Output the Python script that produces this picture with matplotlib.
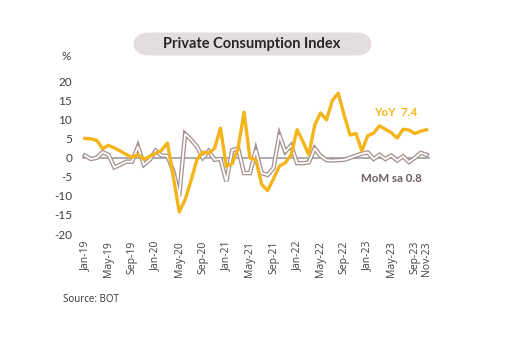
import matplotlib
matplotlib.use("Agg")
import matplotlib.pyplot as plt
from matplotlib.patches import FancyBboxPatch

# ---- data ----
months = [f"{m}-{y}" for y in ["19", "20", "21", "22", "23"]
          for m in ["Jan", "Feb", "Mar", "Apr", "May", "Jun", "Jul", "Aug", "Sep", "Oct", "Nov", "Dec"]][:59]

yoy = [5.1, 5.0, 4.6, 2.4, 3.3, 2.6, 1.8, 0.9, 0.1, 0.9, -0.4, 0.4,
       1.2, 2.0, 3.9, -5.0, -14.2, -11.0, -6.0, -0.5, 1.5, 1.2, 2.5, 7.8,
       -2.2, -1.5, 2.5, 12.0, 0.0, -0.5, -7.0, -8.6, -5.5, -2.2, -1.3, 0.8,
       7.4, 4.3, 0.8, 8.6, 11.8, 10.0, 15.1, 17.0, 11.2, 6.0, 6.4, 1.8,
       5.8, 6.5, 8.4, 7.5, 6.6, 5.2, 7.5, 7.3, 6.4, 7.0, 7.4]

mom = [0.6, -0.3, 0.0, 1.5, 0.8, -2.5, -1.8, -1.0, -1.0, 3.0, -1.8, -0.5,
       1.9, 0.6, 0.5, -3.5, -10.0, 6.3, 4.8, 3.0, 0.0, 1.8, -0.5, -0.3,
       -6.2, 2.0, 2.5, -4.0, -4.0, 2.0, -4.0, -4.5, -2.7, 6.0, 1.6, 3.3,
       -1.4, -1.4, -1.2, 2.5, 0.5, -0.6, -0.7, -0.6, -0.5, 0.0, 0.6, 1.1,
       1.4, -0.3, 0.8, -0.3, 0.6, -0.7, 0.4, -1.1, 0.0, 1.3, 0.8]

tick_labels = ["Jan-19", "May-19", "Sep-19", "Jan-20", "May-20", "Sep-20", "Jan-21",
               "May-21", "Sep-21", "Jan-22", "May-22", "Sep-22", "Jan-23", "May-23",
               "Sep-23", "Nov-23"]
y_ticks = [-20, -15, -10, -5, 0, 5, 10, 15, 20]

title = "Private Consumption Index"
yoy_label = "YoY  7.4"
mom_label = "MoM sa 0.8"
source = "Source: BOT"

# ---- style ----
GOLD = "#F4B41A"
MOM_EDGE = "#A89393"
TXT = "#404040"
W, H = 520, 346

fig = plt.figure(figsize=(W / 100, H / 100), dpi=100)
fig.patch.set_facecolor("white")
ax = fig.add_axes([82 / W, 1 - 234 / H, (429.6 - 82) / W, (234 - 81.7) / H])

x = list(range(len(months)))
ax.axhline(0, color="#A6A6A6", lw=1.3, zorder=1)
ax.plot(x, mom, color=MOM_EDGE, lw=3.2, solid_joinstyle="miter", zorder=2)
ax.plot(x, mom, color="white", lw=1.3, solid_joinstyle="miter", zorder=3)
ax.plot(x, yoy, color=GOLD, lw=2.4, solid_joinstyle="round", zorder=4)

ax.set_xlim(-0.5, len(months) - 0.5)
ax.set_ylim(-20, 20)
ax.set_yticks(y_ticks)
ax.set_yticklabels([str(v) for v in y_ticks], family="Lato", fontsize=8.5, color=TXT)
tick_pos = [months.index(t) for t in tick_labels]
ax.set_xticks(tick_pos)
ax.set_xticklabels(tick_labels, rotation=90, family="Open Sans", fontsize=7.5, color=TXT)
ax.tick_params(axis="both", length=0)
ax.tick_params(axis="y", pad=7)
ax.tick_params(axis="x", pad=5)
for s in ax.spines.values():
    s.set_visible(False)

ax.text(56.4, 11.9, yoy_label, color=GOLD, family="Lato", fontweight="bold",
        fontsize=8.3, ha="right", va="center")
ax.text(57.2, -5.3, mom_label, color="#6B5B5B", family="Lato", fontweight="bold",
        fontsize=8.3, ha="right", va="center")

# "%" unit label
fig.text(66 / W, 1 - 56 / H, "%", family="Lato", fontsize=8.5, color=TXT, ha="center", va="center")

# title box
box = FancyBboxPatch((133 / W, 1 - 55.5 / H), (372 - 133) / W, (55.5 - 32.5) / H,
                     boxstyle="round,pad=0,rounding_size=0.03", transform=fig.transFigure,
                     facecolor="#E4DDDD", edgecolor="none", mutation_aspect=W / H)
fig.patches.append(box)
fig.text(252 / W, 1 - 44 / H, title, family="Lato", fontweight="bold", fontsize=10.5,
         color="#262626", ha="center", va="center")

fig.text(63 / W, 1 - 300 / H, source, family="Open Sans", fontsize=7, color="#333333",
         ha="left", va="center")

fig.savefig("out.png", dpi=100, facecolor="white")
